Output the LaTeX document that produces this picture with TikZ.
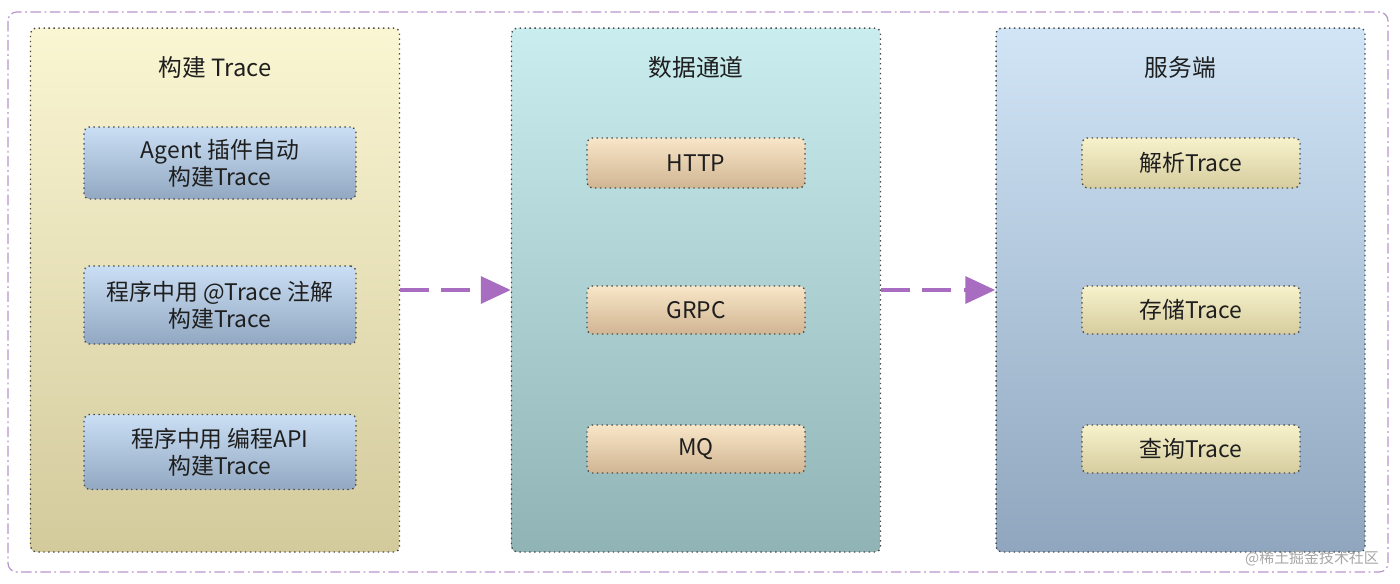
\documentclass[tikz,border=0pt]{standalone}
\usepackage{fontspec}
\setmainfont{Noto Sans CJK SC}
\usetikzlibrary{arrows.meta}

\begin{document}
\begin{tikzpicture}[x=0.02cm, y=-0.02cm, >=Latex, font=\fontsize{13}{15.5}\selectfont]
\definecolor{flow}{HTML}{A86CC1}
\definecolor{frame}{HTML}{B895CC}
\definecolor{dotline}{HTML}{4A4A4A}
\definecolor{ink}{HTML}{1E1E1E}
\definecolor{buildtop}{HTML}{FAF6D3}
\definecolor{buildbot}{HTML}{D3CA9C}
\definecolor{chantop}{HTML}{CAEDEF}
\definecolor{chanbot}{HTML}{90B4B5}
\definecolor{servtop}{HTML}{D1E5F6}
\definecolor{servbot}{HTML}{8FA6BE}
\definecolor{bluetop}{HTML}{CADFF4}
\definecolor{bluebot}{HTML}{92A8C2}
\definecolor{tantop}{HTML}{F8E6C8}
\definecolor{tanbot}{HTML}{D0B592}
\definecolor{creamtop}{HTML}{F7F2CC}
\definecolor{creambot}{HTML}{D6CC9E}
\tikzset{
  panel/.style={draw=dotline, dotted, line width=0.8pt, rounded corners=3pt, minimum width=7.38cm, minimum height=10.48cm},
  item/.style={draw=dotline, dotted, line width=0.8pt, rounded corners=3pt, text=ink, align=center, inner sep=0pt},
  head/.style={text=ink, font=\fontsize{13.5}{16}\selectfont},
  flowarrow/.style={flow, line width=2.8pt, dash pattern=on 16.5pt off 7pt, -{Triangle[length=17pt, width=15pt]}}
}
\useasboundingbox (0,0) rectangle (1400,583);
% outer frame
\draw[frame, line width=0.7pt, rounded corners=5pt, dash pattern=on 6pt off 2pt on 1pt off 2pt] (8,12) rectangle (1388,572);
% panels
\node[panel, top color=buildtop, bottom color=buildbot] (build) at (215,290) {};
\node[panel, top color=chantop, bottom color=chanbot] (channel) at (696,290) {};
\node[panel, top color=servtop, bottom color=servbot] (server) at (1180.5,290) {};
\node[head] (buildtitle) at (215,67) {构建 Trace};
\node[head] (channeltitle) at (696,67) {数据通道};
\node[head] (servertitle) at (1180.5,67) {服务端};
% build trace
\node[item, top color=bluetop, bottom color=bluebot, minimum width=5.44cm, minimum height=1.44cm] (agent) at (220,163) {Agent 插件自动\\构建Trace};
\node[item, top color=bluetop, bottom color=bluebot, minimum width=5.44cm, minimum height=1.56cm] (annot) at (220,305) {程序中用 @Trace 注解\\构建Trace};
\node[item, top color=bluetop, bottom color=bluebot, minimum width=5.44cm, minimum height=1.5cm] (api) at (220,452) {程序中用 编程API\\构建Trace};
% data channel
\node[item, top color=tantop, bottom color=tanbot, minimum width=4.36cm, minimum height=1cm] (http) at (696,163) {HTTP};
\node[item, top color=tantop, bottom color=tanbot, minimum width=4.36cm, minimum height=0.96cm] (grpc) at (696,310) {GRPC};
\node[item, top color=tantop, bottom color=tanbot, minimum width=4.36cm, minimum height=0.96cm] (mq) at (696,449) {MQ};
% server
\node[item, top color=creamtop, bottom color=creambot, minimum width=4.36cm, minimum height=1cm] (parse) at (1191,163) {解析Trace};
\node[item, top color=creamtop, bottom color=creambot, minimum width=4.36cm, minimum height=0.96cm] (store) at (1191,310) {存储Trace};
\node[item, top color=creamtop, bottom color=creambot, minimum width=4.36cm, minimum height=0.96cm] (query) at (1191,449) {查询Trace};
% flow
\draw[flowarrow] (build.east) -- (channel.west);
\draw[flowarrow] (channel.east) -- (server.west);
\node[anchor=east, text=gray!70, font=\fontsize{8.5}{10}\selectfont] (mark) at (1385,558) {@稀土掘金技术社区};
\end{tikzpicture}
\end{document}
